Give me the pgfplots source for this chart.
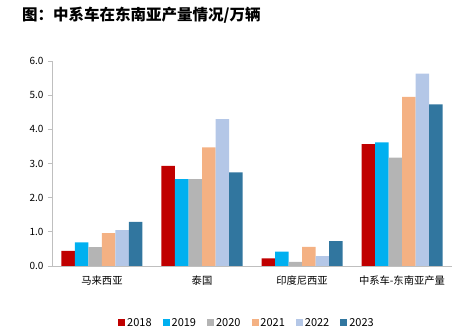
\documentclass[border=0pt]{standalone}
\usepackage{fontspec}
\setmainfont{Noto Sans CJK SC}
\usepackage{pgfplots}
\pgfplotsset{compat=1.18}
\definecolor{c18}{RGB}{192,0,0}
\definecolor{c19}{RGB}{0,176,240}
\definecolor{c20}{RGB}{180,180,180}
\definecolor{c21}{RGB}{244,177,131}
\definecolor{c22}{RGB}{180,199,231}
\definecolor{c23}{RGB}{49,118,159}
\definecolor{axgray}{RGB}{191,191,191}
\begin{document}
\begin{tikzpicture}
\begin{axis}[name=ax, scale only axis, width=400pt, height=205pt,
  ybar=0pt, bar width=13.5pt,
  xmin=-0.5, xmax=3.5, ymin=0, ymax=6,
  xtick={0,1,2,3},
  xticklabels={马来西亚,泰国,印度尼西亚,中系车-东南亚产量},
  x tick style={draw=none},
  tick align=outside,
  extra x ticks={-0.5,0.5,1.5,2.5,3.5},
  extra x tick labels={},
  extra x tick style={tick align=outside, major tick length=4pt, tick style={draw=axgray, line width=0.8pt}},
  ytick={0,1,2,3,4,5,6},
  y tick style={draw=axgray, line width=0.8pt},
  major tick length=4pt,
  yticklabel style={/pgf/number format/fixed, /pgf/number format/fixed zerofill, /pgf/number format/precision=1},
  /pgf/number format/assume math mode=true,
  y tick label style={font=\fontsize{10}{11}\selectfont, xshift=-1pt},
  x tick label style={font=\fontsize{10.3}{11}\selectfont, yshift=-2pt},
  axis x line*=bottom, axis y line*=left,
  axis line style={-, draw=axgray, line width=0.8pt},
  legend style={draw=none, font=\fontsize{11}{12}\selectfont, legend columns=-1,
    at={(0.4875,-0.278)}, anchor=center, inner sep=0pt,
    /tikz/every even column/.append style={column sep=9pt}},
  legend image code/.code={\fill[#1] (0pt,-3.5pt) rectangle (7pt,3.5pt);},
]
\addplot[fill=c18, draw=none] coordinates {(0,0.44) (1,2.93) (2,0.22) (3,3.57)};
\addplot[fill=c19, draw=none] coordinates {(0,0.69) (1,2.54) (2,0.42) (3,3.62)};
\addplot[fill=c20, draw=none] coordinates {(0,0.55) (1,2.54) (2,0.12) (3,3.17)};
\addplot[fill=c21, draw=none] coordinates {(0,0.96) (1,3.47) (2,0.56) (3,4.95)};
\addplot[fill=c22, draw=none] coordinates {(0,1.05) (1,4.30) (2,0.29) (3,5.63)};
\addplot[fill=c23, draw=none] coordinates {(0,1.29) (1,2.74) (2,0.73) (3,4.73)};
\legend{2018,2019,2020,2021,2022,2023}
\end{axis}
\node[anchor=west, font=\bfseries\fontsize{15.5}{16}\selectfont, inner sep=0pt] at ([xshift=-30pt, yshift=46pt]ax.north west) {图：中系车在东南亚产量情况/万辆};
\pgfresetboundingbox
\useasboundingbox ([xshift=-52pt, yshift=-65pt]ax.south west) rectangle ([xshift=1pt, yshift=61pt]ax.north east);
\end{tikzpicture}
\end{document}
